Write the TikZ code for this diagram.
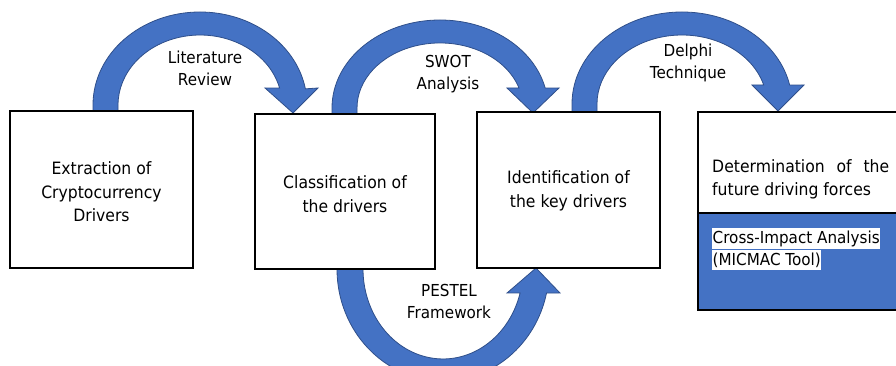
\documentclass[tikz,border=0pt]{standalone}
\usepackage{fontspec}
\setmainfont{DejaVu Sans}[FakeStretch=0.92]
\definecolor{arrowblue}{HTML}{4472C4}
\definecolor{arrowedge}{HTML}{2F4F8A}
\begin{document}
\begin{tikzpicture}[x=1pt,y=1pt,
  stagebox/.style={draw=black, line width=1.2pt, fill=white, inner sep=0pt},
  bigarrow/.style={fill=arrowblue, draw=arrowedge, line width=0.8pt, line join=miter},
  boxtext/.style={align=center, font=\fontsize{17}{23.5}\selectfont},
  arrowlabel/.style={align=center, font=\fontsize{16.5}{22}\selectfont},
  hilite/.style={fill=white, inner xsep=0.5pt, inner ysep=0pt, text height=15.5pt, text depth=5pt,
                 anchor=north west, font=\fontsize{16.5}{22}\selectfont}]
\useasboundingbox (0,0) rectangle (896,366);
\clip (0,0) rectangle (896,366);

% curved block arrows between the stages
% Literature Review
\draw[bigarrow] (93,255) -- (93,261)
  arc[start angle=180, end angle=10, x radius=107, y radius=93]
  -- (318,278) -- (293,253) -- (265,278) -- (279.6,277.9)
  arc[start angle=14, end angle=180, x radius=82, y radius=70]
  -- (118,255) -- cycle;
% SWOT Analysis
\draw[bigarrow] (332,252) -- (332,258)
  arc[start angle=180, end angle=13.1, x radius=108, y radius=88]
  -- (559,278) -- (533,253) -- (507,278) -- (519,278)
  arc[start angle=17.9, end angle=180, x radius=83, y radius=65]
  -- (357,252) -- cycle;
% Delphi Technique
\draw[bigarrow] (572,254) -- (572,262)
  arc[start angle=180, end angle=11.9, x radius=110, y radius=92]
  -- (804,281) -- (778,255) -- (752,281) -- (763.7,281)
  arc[start angle=16, end angle=180, x radius=85, y radius=69]
  -- (597,254) -- cycle;
% PESTEL Framework
\draw[bigarrow] (337,97)
  arc[start angle=180, end angle=347.6, x radius=106, y radius=112]
  -- (560,73) -- (536,98) -- (507,73) -- (520.1,73)
  arc[start angle=344.5, end angle=180, x radius=80, y radius=90]
  -- cycle;

% stage boxes
\node[stagebox, minimum width=183pt, minimum height=157pt] (extract) at (101.5,176.5) {};
\node[boxtext] (extractT) at (101.5,174) {Extraction of\\Cryptocurrency\\Drivers};
\node[stagebox, minimum width=180pt, minimum height=155pt] (classify) at (345,174.5) {};
\node[boxtext] (classifyT) at (345,172) {Classification of\\the drivers};
\node[stagebox, minimum width=183pt, minimum height=156pt] (identify) at (568.5,176) {};
\node[boxtext] (identifyT) at (568.5,175) {Identification of\\the key drivers};

% last stage: white upper part, blue lower part
\draw[stagebox] (698,153) rectangle (910,254);
\draw[stagebox, fill=arrowblue] (698,56) rectangle (910,153);
\node[anchor=north west, inner sep=0pt, font=\fontsize{17}{23}\selectfont] (determine) at (712,207)
  {\parbox[t]{177pt}{Determination\hfill of\hfill the\\future driving forces}};
\node[hilite] (cia1) at (712,138) {Cross-Impact Analysis};
\node[hilite] (cia2) at (712,116.5) {(MICMAC Tool)};

% arrow labels
\node[arrowlabel] (litrev) at (205,298) {Literature\\Review};
\node[arrowlabel] (swot) at (448,292) {SWOT\\Analysis};
\node[arrowlabel] (delphi) at (688,303) {Delphi\\Technique};
\node[arrowlabel] (pestel) at (449,65) {PESTEL\\Framework};
\end{tikzpicture}
\end{document}
